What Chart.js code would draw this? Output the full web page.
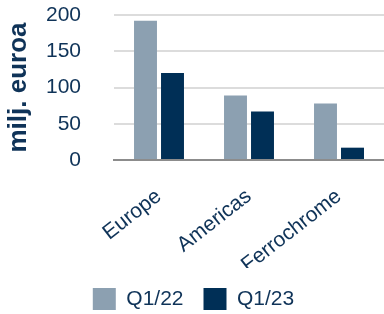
<!DOCTYPE html>
<html><head><meta charset="utf-8">
<script src="https://cdn.jsdelivr.net/npm/chart.js@4"></script>
<style>html,body{margin:0;padding:0;background:#fff}#w{width:384px;height:314px}</style>
</head><body><div id="w"><canvas id="c"></canvas></div>
<script>
const categories = ["Europe", "Americas", "Ferrochrome"];
const seriesNames = ["Q1/22", "Q1/23"];
const q122 = [192, 89, 78];
const q123 = [120, 67, 17];
const yTicks = [0, 50, 100, 150, 200];

const txt = "#0f3358";
new Chart(document.getElementById("c"), {
  type: "bar",
  data: {
    labels: categories,
    datasets: [
      { label: seriesNames[0], data: q122, backgroundColor: "#8ca0b1" },
      { label: seriesNames[1], data: q123, backgroundColor: "#002f56" }
    ]
  },
  options: {
    responsive: true, maintainAspectRatio: false, animation: false,
    layout: { padding: { top: 15, right: 0, left: 3, bottom: -6 } },
    datasets: { bar: { categoryPercentage: 0.6, barPercentage: 0.85 } },
    plugins: {
      legend: {
        position: "bottom",
        labels: { boxWidth: 23, boxHeight: 22, color: txt, padding: 20,
          font: { family: "Liberation Sans", size: 21 } }
      },
      tooltip: { enabled: false }
    },
    scales: {
      x: {
        grid: { display: false },
        border: { display: true, color: "#8c8c8c", width: 2 },
        afterFit: (s) => { s.height = 108; },
        ticks: { color: txt, minRotation: 38, maxRotation: 38, padding: 16,
          font: { family: "Liberation Sans", size: 21 } }
      },
      y: {
        min: 0, max: 200,
        afterBuildTicks: (s) => { s.ticks = yTicks.map(v => ({ value: v })); },
        afterFit: (s) => { s.width = 111; s.paddingTop = 0; s.paddingBottom = 0; },
        grid: { color: "#dcdcdc", lineWidth: 2, drawTicks: false },
        border: { display: false },
        ticks: { color: txt, padding: 33, font: { family: "Liberation Sans", size: 21 } },
        title: { display: true, text: "milj. euroa", color: txt, padding: 0,
          font: { family: "Liberation Sans", size: 26, weight: "bold" } }
      }
    }
  }
});
</script></body></html>
